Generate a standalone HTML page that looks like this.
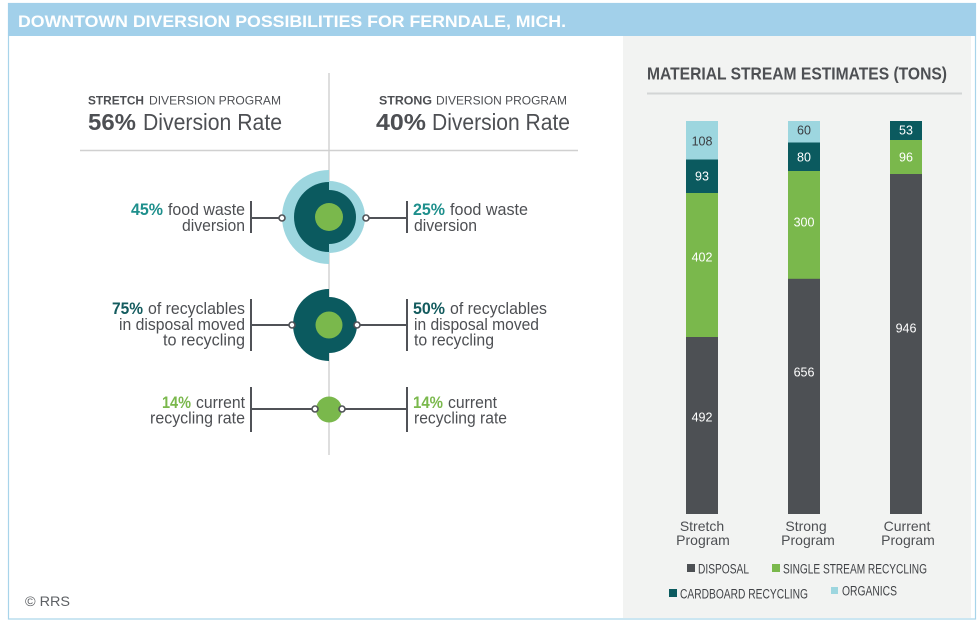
<!DOCTYPE html>
<html><head><meta charset="utf-8"><style>
html,body{margin:0;padding:0;background:#fff;}
svg{display:block;}
text{font-family:"Liberation Sans",sans-serif;}
</style></head><body>
<svg width="977" height="625" viewBox="0 0 977 625" xmlns="http://www.w3.org/2000/svg">
<rect x="0" y="0" width="977" height="625" fill="#fff"/>
<!-- frame -->
<rect x="8.5" y="3.5" width="967" height="615.5" fill="#fff" stroke="#a8d4ea" stroke-width="1.2"/>
<!-- right panel -->
<rect x="623" y="36" width="348" height="582" fill="#f2f3f2"/>
<!-- header -->
<rect x="8" y="3" width="968" height="33" fill="#a2d0ea"/>
<text x="18" y="27" font-size="17" font-weight="bold" fill="#fff" textLength="548" lengthAdjust="spacingAndGlyphs">DOWNTOWN DIVERSION POSSIBILITIES FOR FERNDALE, MICH.</text>

<!-- left headings -->
<line x1="329" y1="73" x2="329" y2="455" stroke="#d4d4d4" stroke-width="1.5"/>
<line x1="80" y1="150.5" x2="578" y2="150.5" stroke="#d0d0d0" stroke-width="1.5"/>
<text x="88" y="104.5" font-size="11.5" font-weight="bold" fill="#4d4f53" textLength="56" lengthAdjust="spacingAndGlyphs">STRETCH</text>
<text x="149" y="104.5" font-size="11.5" fill="#4d4f53" textLength="132" lengthAdjust="spacingAndGlyphs">DIVERSION PROGRAM</text>
<text x="88" y="130" font-size="23" font-weight="bold" fill="#4d4f53" textLength="48" lengthAdjust="spacingAndGlyphs">56%</text>
<text x="143" y="130" font-size="23" fill="#4d4f53" textLength="139" lengthAdjust="spacingAndGlyphs">Diversion Rate</text>
<text x="379" y="104.5" font-size="11.5" font-weight="bold" fill="#4d4f53" textLength="53" lengthAdjust="spacingAndGlyphs">STRONG</text>
<text x="436" y="104.5" font-size="11.5" fill="#4d4f53" textLength="131" lengthAdjust="spacingAndGlyphs">DIVERSION PROGRAM</text>
<text x="376" y="130" font-size="23" font-weight="bold" fill="#4d4f53" textLength="50" lengthAdjust="spacingAndGlyphs">40%</text>
<text x="432" y="130" font-size="23" fill="#4d4f53" textLength="138" lengthAdjust="spacingAndGlyphs">Diversion Rate</text>

<!-- row 1 circles -->
<path d="M329,170 A47,47 0 0 0 329,264 Z" fill="#9dd6df"/>
<path d="M329,181 A36,36 0 0 1 329,253 Z" fill="#9dd6df"/>
<path d="M329,182 A35,35 0 0 0 329,252 Z" fill="#0b5a5f"/>
<path d="M329,190 A27,27 0 0 1 329,244 Z" fill="#0b5a5f"/>
<circle cx="329" cy="217" r="14" fill="#7ab84c"/>
<!-- row 2 -->
<path d="M329,289 A36,36 0 0 0 329,361 Z" fill="#0b5a5f"/>
<path d="M329,297 A28,28 0 0 1 329,353 Z" fill="#0b5a5f"/>
<circle cx="329" cy="325" r="13.5" fill="#7ab84c"/>
<!-- row 3 -->
<circle cx="329" cy="409.5" r="13" fill="#7ab84c"/>

<g stroke="#505257" stroke-width="2" fill="none">
<line x1="251" y1="201" x2="251" y2="233"/>
<line x1="251" y1="218" x2="279" y2="218"/>
<line x1="407" y1="201" x2="407" y2="233"/>
<line x1="369" y1="218" x2="407" y2="218"/>
<line x1="251" y1="299" x2="251" y2="351"/>
<line x1="251" y1="325" x2="289" y2="325"/>
<line x1="407" y1="299" x2="407" y2="351"/>
<line x1="360" y1="325" x2="407" y2="325"/>
<line x1="251" y1="387" x2="251" y2="432"/>
<line x1="251" y1="409" x2="312" y2="409"/>
<line x1="407" y1="387" x2="407" y2="432"/>
<line x1="345" y1="409" x2="407" y2="409"/>
</g>
<g stroke="#505257" stroke-width="1.6" fill="#fff">
<circle cx="282" cy="218" r="3"/>
<circle cx="366" cy="218" r="3"/>
<circle cx="292" cy="325" r="3"/>
<circle cx="357" cy="325" r="3"/>
<circle cx="315" cy="409" r="3"/>
<circle cx="342" cy="409" r="3"/>
</g>

<!-- row texts -->
<g font-size="16.5" fill="#4d4f53">
<text x="131" y="215" font-weight="bold" fill="#1e8f8c" textLength="32" lengthAdjust="spacingAndGlyphs">45%</text>
<text x="168" y="215" textLength="77" lengthAdjust="spacingAndGlyphs">food waste</text>
<text x="182" y="231" textLength="63" lengthAdjust="spacingAndGlyphs">diversion</text>
<text x="413" y="215" font-weight="bold" fill="#1e8f8c" textLength="32" lengthAdjust="spacingAndGlyphs">25%</text>
<text x="450" y="215" textLength="78" lengthAdjust="spacingAndGlyphs">food waste</text>
<text x="414" y="231" textLength="63" lengthAdjust="spacingAndGlyphs">diversion</text>

<text x="112" y="314" font-weight="bold" fill="#135b5e" textLength="31" lengthAdjust="spacingAndGlyphs">75%</text>
<text x="148" y="314" textLength="97" lengthAdjust="spacingAndGlyphs">of recyclables</text>
<text x="119" y="330" textLength="126" lengthAdjust="spacingAndGlyphs">in disposal moved</text>
<text x="163" y="345.5" textLength="82" lengthAdjust="spacingAndGlyphs">to recycling</text>
<text x="413" y="314" font-weight="bold" fill="#135b5e" textLength="32" lengthAdjust="spacingAndGlyphs">50%</text>
<text x="450" y="314" textLength="97" lengthAdjust="spacingAndGlyphs">of recyclables</text>
<text x="414" y="330" textLength="125" lengthAdjust="spacingAndGlyphs">in disposal moved</text>
<text x="414" y="345.5" textLength="80" lengthAdjust="spacingAndGlyphs">to recycling</text>

<text x="162" y="408" font-weight="bold" fill="#7ab84c" textLength="29" lengthAdjust="spacingAndGlyphs">14%</text>
<text x="196" y="408" textLength="49" lengthAdjust="spacingAndGlyphs">current</text>
<text x="150" y="423.5" textLength="95" lengthAdjust="spacingAndGlyphs">recycling rate</text>
<text x="413" y="408" font-weight="bold" fill="#7ab84c" textLength="30" lengthAdjust="spacingAndGlyphs">14%</text>
<text x="448" y="408" textLength="49" lengthAdjust="spacingAndGlyphs">current</text>
<text x="414" y="423.5" textLength="93" lengthAdjust="spacingAndGlyphs">recycling rate</text>
</g>

<text x="25" y="606" font-size="13.5" fill="#5d6064" textLength="45" lengthAdjust="spacingAndGlyphs">© RRS</text>

<!-- right panel chart -->
<text x="647" y="79.5" font-size="17.5" font-weight="bold" fill="#4d4f53" textLength="300" lengthAdjust="spacingAndGlyphs">MATERIAL STREAM ESTIMATES (TONS)</text>
<line x1="647" y1="93.5" x2="962" y2="93.5" stroke="#d3d5d5" stroke-width="2"/>

<rect x="686" y="121" width="32" height="39" fill="#9dd6df"/>
<rect x="686" y="159.5" width="32" height="34" fill="#0b5a5f"/>
<rect x="686" y="193" width="32" height="144.5" fill="#7ab84c"/>
<rect x="686" y="337" width="32" height="177" fill="#4d5054"/>
<rect x="788" y="121" width="32" height="22" fill="#9dd6df"/>
<rect x="788" y="142.5" width="32" height="29" fill="#0b5a5f"/>
<rect x="788" y="171" width="32" height="108" fill="#7ab84c"/>
<rect x="788" y="278.8" width="32" height="235.2" fill="#4d5054"/>
<rect x="890" y="121" width="32" height="19.5" fill="#0b5a5f"/>
<rect x="890" y="140" width="32" height="34.5" fill="#7ab84c"/>
<rect x="890" y="174" width="32" height="340" fill="#4d5054"/>

<g font-size="12.5" text-anchor="middle" fill="#fff">
<text x="702" y="145.5" fill="#3a3c40">108</text>
<text x="702" y="180.5">93</text>
<text x="702" y="261.5">402</text>
<text x="702" y="421.5">492</text>
<text x="804" y="134.5" fill="#3a3c40">60</text>
<text x="804" y="161.5">80</text>
<text x="804" y="226.5">300</text>
<text x="804" y="376.5">656</text>
<text x="906" y="134.5">53</text>
<text x="906" y="161.5">96</text>
<text x="906" y="332.5">946</text>
</g>

<g font-size="14" text-anchor="middle" fill="#4d4f53">
<text x="702" y="531">Stretch</text>
<text x="703" y="545">Program</text>
<text x="806" y="531">Strong</text>
<text x="808" y="545">Program</text>
<text x="907" y="531">Current</text>
<text x="908" y="545">Program</text>
</g>

<!-- legend -->
<rect x="687" y="564" width="8" height="8" fill="#4d5054"/>
<text x="698" y="573.5" font-size="13.5" fill="#404246" textLength="51" lengthAdjust="spacingAndGlyphs">DISPOSAL</text>
<rect x="772" y="564" width="8" height="8" fill="#7ab84c"/>
<text x="783" y="573.5" font-size="13.5" fill="#404246" textLength="144" lengthAdjust="spacingAndGlyphs">SINGLE STREAM RECYCLING</text>
<rect x="669" y="589" width="8" height="8" fill="#0b5a5f"/>
<text x="680" y="598.5" font-size="13.5" fill="#404246" textLength="128" lengthAdjust="spacingAndGlyphs">CARDBOARD RECYCLING</text>
<rect x="831" y="587" width="7" height="7" fill="#9dd6df"/>
<text x="842" y="595.5" font-size="13.5" fill="#404246" textLength="55" lengthAdjust="spacingAndGlyphs">ORGANICS</text>
</svg>
</body></html>
